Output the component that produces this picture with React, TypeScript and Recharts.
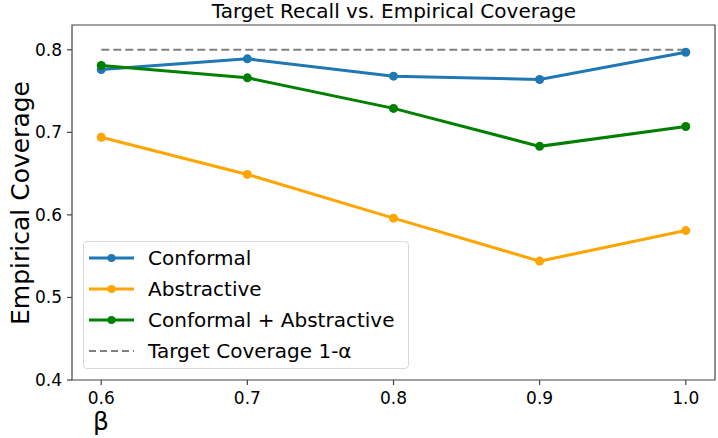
import React from 'react';
import { LineChart, Line, XAxis, YAxis, ReferenceArea } from 'recharts';

const betas = [0.6, 0.7, 0.8, 0.9, 1.0];
const conformal = [0.776, 0.789, 0.768, 0.764, 0.797];
const abstractive = [0.694, 0.649, 0.596, 0.544, 0.581];
const combined = [0.781, 0.766, 0.729, 0.683, 0.707];
const target = [0.8, 0.8, 0.8, 0.8, 0.8];
const yTicks = [0.4, 0.5, 0.6, 0.7, 0.8];

const data = betas.map((b, i) => ({
  beta: b,
  conformal: conformal[i],
  abstractive: abstractive[i],
  combined: combined[i],
  target: target[i],
}));

const series = [
  { key: 'conformal', name: 'Conformal', color: '#1f77b4', dashed: false },
  { key: 'abstractive', name: 'Abstractive', color: '#ffa500', dashed: false },
  { key: 'combined', name: 'Conformal + Abstractive', color: '#008000', dashed: false },
  { key: 'target', name: 'Target Coverage 1-\u03b1', color: '#808080', dashed: true },
];

const FONT = '"DejaVu Sans", sans-serif';
const AXIS = '#444';

const LegendBox = () => (
  <div
    style={{
      position: 'absolute',
      left: 83,
      top: 241,
      width: 326,
      height: 128,
      border: '1px solid #d9d9d9',
      borderRadius: 4,
      background: 'rgba(255,255,255,0.85)',
      boxSizing: 'border-box',
      fontFamily: FONT,
      fontSize: 20,
      color: '#000',
      paddingTop: 1,
    }}
  >
    {series.map((s) => (
      <div key={s.key} style={{ display: 'flex', alignItems: 'center', height: 30.8 }}>
        <svg width={56} height={20} style={{ marginLeft: 4, flex: 'none' }}>
          <line
            x1={1}
            x2={46}
            y1={10}
            y2={10}
            stroke={s.color}
            strokeWidth={s.dashed ? 2 : 3}
            strokeDasharray={s.dashed ? '7 4' : undefined}
          />
          {!s.dashed && <circle cx={23.5} cy={10} r={4} fill={s.color} />}
        </svg>
        <span style={{ marginLeft: 4, lineHeight: '20px', whiteSpace: 'nowrap' }}>{s.name}</span>
      </div>
    ))}
  </div>
);

export default function App() {
  return (
    <div style={{ position: 'absolute', left: 0, top: 0, width: 718, height: 438, background: '#fff' }}>
      <LineChart
        width={718}
        height={438}
        data={data}
        margin={{ top: 25, right: 3, left: 0, bottom: 0 }}
        style={{ position: 'absolute', left: 0, top: 0 }}
      >
        <XAxis
          dataKey="beta"
          type="number"
          domain={[0.58, 1.02]}
          ticks={betas}
          tickFormatter={(v: number) => v.toFixed(1)}
          axisLine={false}
          tickLine={{ stroke: AXIS, strokeWidth: 1.2 }}
          tickSize={5}
          tickMargin={7}
          height={58}
          tick={{ fill: '#000', fontSize: 17, fontFamily: FONT }}
          label={{
            content: () => (
              <text x={101} y={430} textAnchor="middle" fontFamily={FONT} fontSize={25} fill="#000">
                β
              </text>
            ),
          }}
        />
        <YAxis
          type="number"
          domain={[0.4, 0.83]}
          ticks={yTicks}
          tickFormatter={(v: number) => v.toFixed(1)}
          axisLine={false}
          tickLine={{ stroke: AXIS, strokeWidth: 1.2 }}
          tickSize={5}
          tickMargin={5}
          width={72}
          allowDataOverflow
          tick={{ fill: '#000', fontSize: 17, fontFamily: FONT }}
          label={{
            content: () => (
              <text
                x={20}
                y={203}
                transform="rotate(-90 20 203)"
                textAnchor="middle"
                dominantBaseline="central"
                fontFamily={FONT}
                fontSize={25}
                fill="#000"
              >
                Empirical Coverage
              </text>
            ),
          }}
        />
        <ReferenceArea x1={0.58} x2={1.02} y1={0.4} y2={0.83} fill="none" stroke={AXIS} strokeWidth={1.2} />
        {series.map((s) =>
          s.dashed ? (
            <Line
              key={s.key}
              dataKey={s.key}
              name={s.name}
              stroke={s.color}
              strokeWidth={2}
              strokeDasharray="8 4"
              dot={false}
              activeDot={false}
              isAnimationActive={false}
            />
          ) : (
            <Line
              key={s.key}
              dataKey={s.key}
              name={s.name}
              stroke={s.color}
              strokeWidth={3}
              dot={{ r: 4.5, fill: s.color, stroke: s.color, strokeWidth: 0 }}
              activeDot={false}
              isAnimationActive={false}
            />
          )
        )}
      </LineChart>
      <svg width={718} height={26} style={{ position: 'absolute', left: 0, top: 0, overflow: 'visible' }}>
        <text x={394} y={18} textAnchor="middle" fontFamily={FONT} fontSize={20} fill="#000">
          Target Recall vs. Empirical Coverage
        </text>
      </svg>
      <LegendBox />
    </div>
  );
}
